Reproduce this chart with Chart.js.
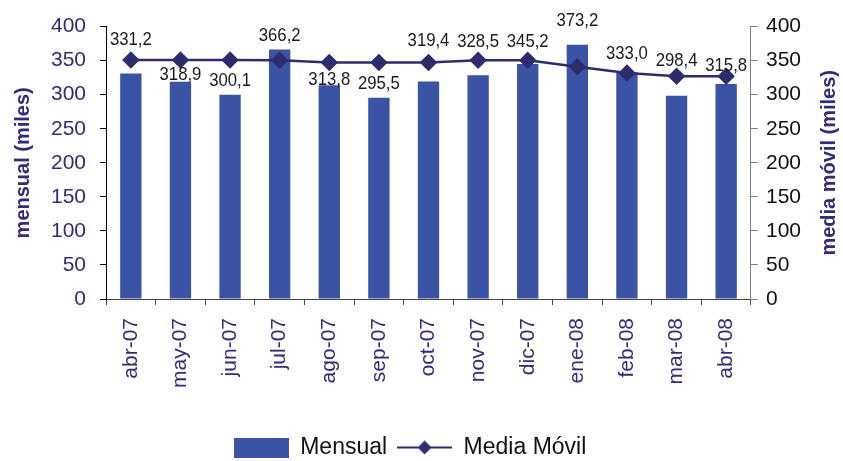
<!DOCTYPE html>
<html>
<head>
<meta charset="utf-8">
<script src="https://cdn.jsdelivr.net/npm/chart.js@4/dist/chart.umd.min.js"></script>
<style>
  html, body { margin: 0; padding: 0; background: #fff; }
  #wrap { width: 843px; height: 461px; }
</style>
</head>
<body>
<div id="wrap"><canvas id="myChart"></canvas></div>
<script>
const months = ['abr-07', 'may-07', 'jun-07', 'jul-07', 'ago-07', 'sep-07', 'oct-07',
                'nov-07', 'dic-07', 'ene-08', 'feb-08', 'mar-08', 'abr-08'];
const mensual = [331.2, 318.9, 300.1, 366.2, 313.8, 295.5, 319.4, 328.5, 345.2, 373.2, 333.0, 298.4, 315.8];
const mediaMovil = [350.8, 350.8, 350.8, 350.5, 347.4, 347.4, 347.4, 350.5, 350.5, 341.2, 331.8, 327.0, 327.0];
const axisTicks = [0, 50, 100, 150, 200, 250, 300, 350, 400];

// vertical nudge of each value label, relative to the line marker
const labelShift = [-20, 15, 21, -25, 17, 21, -22, -19, -19, -46, -19, -16, -11];

const barColor = '#3A53A4';
const lineColor = '#2E2C6E';
const navy = '#2F2C7A';
const fontFam = '"Liberation Sans", Arial, sans-serif';

function makeSwatch(kind) {
    const c = document.createElement('canvas');
    c.width = 55; c.height = 20;
    const g = c.getContext('2d');
    if (kind === 'bar') {
        g.fillStyle = barColor;
        g.fillRect(0, 0, 55, 20);
    } else {
        g.strokeStyle = lineColor;
        g.lineWidth = 2;
        g.beginPath(); g.moveTo(0, 10); g.lineTo(55, 10); g.stroke();
        g.fillStyle = lineColor;
        g.beginPath(); g.moveTo(27.5, 3); g.lineTo(34.5, 10); g.lineTo(27.5, 17); g.lineTo(20.5, 10); g.closePath(); g.fill();
    }
    return c;
}
const swatches = [makeSwatch('bar'), makeSwatch('line')];

const valueLabels = {
    id: 'valueLabels',
    afterDatasetsDraw(chart) {
        const ctx = chart.ctx;
        const bars = chart.getDatasetMeta(0).data;
        const pts = chart.getDatasetMeta(1).data;
        ctx.save();
        ctx.font = '19px ' + fontFam;
        ctx.fillStyle = '#1a1a1a';
        ctx.textAlign = 'center';
        ctx.textBaseline = 'middle';
        mensual.forEach((v, i) => {
            const txt = v.toFixed(1).replace('.', ',');
            ctx.save();
            ctx.translate(bars[i].x, pts[i].y + labelShift[i]);
            ctx.scale(0.88, 1); // the original labels use a narrower face
            ctx.fillText(txt, 0, 0);
            ctx.restore();
        });
        ctx.restore();
    }
};

// right axis title reads bottom-to-top like the left one
const rightTitle = {
    id: 'rightTitle',
    afterDraw(chart) {
        const ctx = chart.ctx;
        const a = chart.chartArea;
        ctx.save();
        ctx.translate(chart.width - 14, (a.top + a.bottom) / 2);
        ctx.rotate(-Math.PI / 2);
        ctx.font = 'bold 20px ' + fontFam;
        ctx.fillStyle = navy;
        ctx.textAlign = 'center';
        ctx.textBaseline = 'middle';
        ctx.fillText('media móvil (miles)', 0, 0);
        ctx.restore();
    }
};

const tickFont = { family: fontFam, size: 21 };

const ctx = document.getElementById('myChart').getContext('2d');
const myChart = new Chart(ctx, {
    type: 'bar',
    data: {
        labels: months,
        datasets: [{
            label: 'Mensual',
            data: mensual,
            backgroundColor: barColor,
            barPercentage: 0.43,
            categoryPercentage: 1,
            yAxisID: 'y',
            order: 2
        }, {
            type: 'line',
            label: 'Media Móvil',
            data: mediaMovil,
            borderColor: lineColor,
            backgroundColor: lineColor,
            borderWidth: 2.5,
            pointStyle: 'rectRot',
            pointRadius: 7,
            pointHoverRadius: 7,
            tension: 0,
            yAxisID: 'y1',
            order: 1
        }]
    },
    options: {
        responsive: true,
        maintainAspectRatio: false,
        animation: false,
        layout: { padding: { top: 7, left: 11, right: 34, bottom: -8 } },
        plugins: {
            tooltip: { enabled: false },
            legend: {
                position: 'bottom',
                labels: {
                    usePointStyle: true,
                    pointStyleWidth: 55,
                    boxHeight: 20,
                    padding: 10,
                    color: '#111',
                    font: { family: fontFam, size: 23 },
                    generateLabels(chart) {
                        const items = Chart.defaults.plugins.legend.labels.generateLabels(chart);
                        items.sort((a, b) => a.datasetIndex - b.datasetIndex);
                        items.forEach(it => { it.pointStyle = swatches[it.datasetIndex]; });
                        return items;
                    }
                }
            }
        },
        scales: {
            x: {
                grid: { offset: true, drawOnChartArea: false, tickLength: 6, color: '#444' },
                border: { color: '#444', width: 1 },
                afterFit(axis) { axis.height = 127; },
                ticks: {
                    color: navy,
                    font: tickFont,
                    maxRotation: 90,
                    minRotation: 90,
                    padding: 13
                }
            },
            y: {
                position: 'left',
                min: 0,
                max: 400,
                afterBuildTicks(axis) { axis.ticks = axisTicks.map(v => ({ value: v })); },
                grid: { drawOnChartArea: false, tickLength: 6, tickColor: '#000' },
                border: { color: '#000', width: 1 },
                ticks: { color: navy, font: tickFont, padding: 14 },
                title: {
                    display: true,
                    text: 'mensual (miles)',
                    color: navy,
                    font: { family: fontFam, size: 20, weight: 'bold' },
                    padding: { top: 0, bottom: 2 }
                }
            },
            y1: {
                position: 'right',
                min: 0,
                max: 400,
                afterBuildTicks(axis) { axis.ticks = axisTicks.map(v => ({ value: v })); },
                grid: { drawOnChartArea: false, tickLength: 7, tickColor: '#808080' },
                border: { color: '#808080', width: 1 },
                ticks: { color: '#111', font: tickFont, padding: 8 }
            }
        }
    },
    plugins: [valueLabels, rightTitle]
});
</script>
</body>
</html>
